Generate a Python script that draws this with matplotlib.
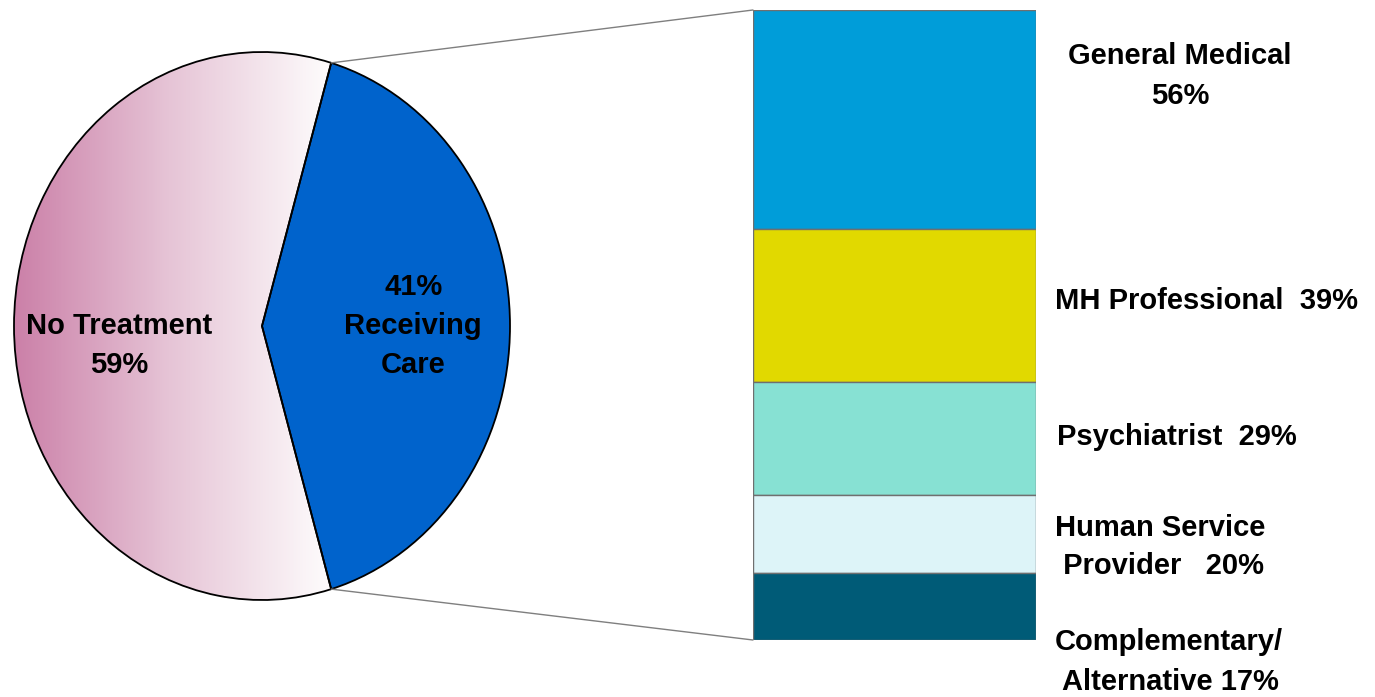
import numpy as np
import matplotlib.pyplot as plt
from matplotlib.colors import LinearSegmentedColormap
from matplotlib.patches import ConnectionPatch

# pie: share of people receiving any care
pie_vals = [41, 59]
pie_labels = ["41%\nReceiving\nCare", "No Treatment\n59%"]

# breakdown of care sources (top to bottom in the bar)
care_names = ["General Medical", "MH Professional", "Psychiatrist",
              "Human Service\n Provider", "Complementary/\n Alternative"]
care_vals = [56, 39, 29, 20, 17]
care_fmt = ["{n}\n{v}%", "{n}  {v}%", "{n}  {v}%", "{n}   {v}%", "{n} {v}%"]
care_colors = ["#009dd9", "#e1d900", "#87e1d3", "#ddf4f8", "#005b77"]

W, H = 1375, 697
plt.rcParams['font.family'] = ['Liberation Sans', 'DejaVu Sans']
plt.rcParams['font.weight'] = 'bold'
fig = plt.figure(figsize=(W / 100, H / 100), dpi=100)


def px_axes(x0, y0, x1, y1):
    return fig.add_axes([x0 / W, 1 - y1 / H, (x1 - x0) / W, (y1 - y0) / H])


# ---- pie (drawn as an ellipse) ----
ax_pie = px_axes(14, 52, 510, 600)
half = pie_vals[0] / 100 * 180
grad_cmap = LinearSegmentedColormap.from_list("pink", ["#cb80a8", "#e6c4d6", "#fdfafb"])
xs = np.linspace(-1, 1, 400)
t = np.clip((xs + 1) / 1.25, 0, 1)
img = ax_pie.imshow(t[None, :], extent=(-1, 1, -1, 1), cmap=grad_cmap,
                    aspect='auto', zorder=0, vmin=0, vmax=1)
wedges, _ = ax_pie.pie(pie_vals, startangle=-half, counterclock=True,
                       colors=["#0063cc", "none"],
                       wedgeprops=dict(edgecolor="black", linewidth=1.3))
img.set_clip_path(wedges[1])
for w in wedges:
    w.set_clip_on(False)
ax_pie.set_aspect('auto')
ax_pie.set_xlim(-1, 1)
ax_pie.set_ylim(-1, 1)
ax_pie.axis('off')

ax_pie.text(0.61, 0.0, pie_labels[0], ha='center', va='center',
            fontsize=21, linespacing=1.5)
ax_pie.text(-0.575, -0.07, pie_labels[1], ha='center', va='center',
            fontsize=21, linespacing=1.5)

# ---- stacked bar ----
ax_bar = px_axes(753, 10, 1036, 640)
total = sum(care_vals)
tops = total - np.cumsum([0] + care_vals[:-1])
ax_bar.bar([0] * len(care_vals), care_vals, bottom=tops - np.array(care_vals),
           width=1, color=care_colors, edgecolor="#6f6f6f", linewidth=1)
ax_bar.set_xlim(-0.5, 0.5)
ax_bar.set_ylim(0, total)
ax_bar.axis('off')

# connector lines from the wedge edge to the bar corners
for sgn, yb in [(1, total), (-1, 0)]:
    th = np.deg2rad(sgn * half)
    con = ConnectionPatch(xyA=(np.cos(th), np.sin(th)), coordsA=ax_pie.transData,
                          xyB=(-0.5, yb), coordsB=ax_bar.transData,
                          color="#7f7f7f", linewidth=1)
    fig.add_artist(con)

# labels to the right of the bar
label_pos = [(1180, 76, 'center'), (1055, 301, 'left'), (1057, 437, 'left'),
             (1055, 547, 'left'), (1055, 662, 'left')]
for name, v, f, (x, y, ha) in zip(care_names, care_vals, care_fmt, label_pos):
    fig.text(x / W, 1 - y / H, f.format(n=name, v=v), ha=ha, va='center',
             fontsize=21, linespacing=1.5, multialignment=ha)

fig.savefig("out.png", dpi=100)
